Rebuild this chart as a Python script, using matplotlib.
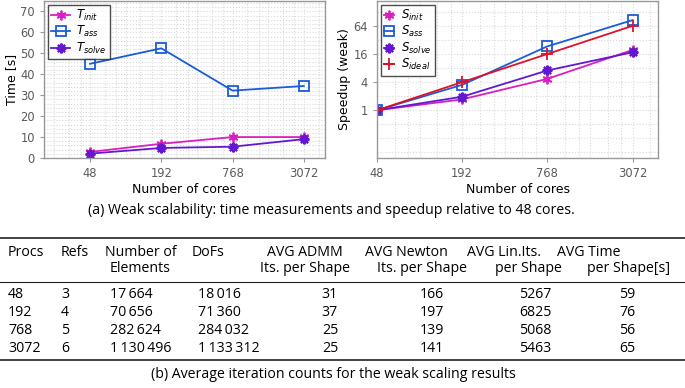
import matplotlib
matplotlib.use("Agg")
import matplotlib.pyplot as plt
from matplotlib.ticker import FixedLocator, NullFormatter

# ---- data ----
cores = [48, 192, 768, 3072]
t_init = [2.9, 6.8, 10.0, 10.0]
t_ass = [45.0, 52.4, 32.2, 34.4]
t_solve = [2.1, 4.8, 5.4, 9.0]

s_init = [1.0, 1.71, 4.7, 19.5]
s_ass = [1.0, 3.5, 23.3, 85.0]
s_solve = [1.0, 1.95, 7.1, 17.4]
s_ideal = [1.0, 4.0, 16.0, 64.0]

col_heads = [["Procs", ""], ["Refs", ""], ["Number of", "Elements"], ["DoFs", ""],
             ["AVG ADMM", "Its. per Shape"], ["AVG Newton", "Its. per Shape"],
             ["AVG Lin.Its.", "per Shape"], ["AVG Time", "per Shape[s]"]]
procs = ["48", "192", "768", "3072"]
refs = ["3", "4", "5", "6"]
n_elem = ["17\u2009664", "70\u2009656", "282\u2009624", "1\u2009130\u2009496"]
dofs = ["18\u2009016", "71\u2009360", "284\u2009032", "1\u2009133\u2009312"]
admm_its = ["31", "37", "25", "25"]
newton_its = ["166", "197", "139", "141"]
lin_its = ["5267", "6825", "5068", "5463"]
avg_time = ["59", "76", "56", "65"]

c_init = "#d81fc0"
c_ass = "#1a5bd8"
c_solve = "#6318d0"
c_ideal = "#e0102a"
tick_col = "#5a5a5a"
spine_col = "#999999"

fig = plt.figure(figsize=(6.85, 3.88), dpi=100)


def style_axes(ax):
    for s in ax.spines.values():
        s.set_color(spine_col)
        s.set_linewidth(1.0)
    ax.tick_params(which="both", colors=spine_col, labelcolor=tick_col, labelsize=8.3, length=3)
    ax.tick_params(which="minor", length=0)
    ax.grid(which="both", color="#d8d8d8", linestyle=":", linewidth=0.8)
    ax.set_axisbelow(True)


# ---- left: times ----
ax1 = fig.add_axes([44 / 685, 1 - 158 / 388, 281 / 685, 157 / 388])
ax1.plot(cores, t_init, color=c_init, marker=(6, 2, 0), ms=7, mew=1.3, lw=1.3, label=r"$T_{init}$")
ax1.plot(cores, t_ass, color=c_ass, marker="s", ms=7, mfc="none", mew=1.3, lw=1.3, label=r"$T_{ass}$")
ax1.plot(cores, t_solve, color=c_solve, marker=(8, 2, 0), ms=7, mew=1.6, lw=1.3, label=r"$T_{solve}$")
ax1.set_xscale("log", base=2)
ax1.set_xlim(19.6, 4640)
ax1.set_ylim(0, 75)
ax1.set_xticks(cores)
ax1.set_xticklabels([str(c) for c in cores])
ax1.xaxis.set_minor_locator(FixedLocator([24, 32, 40, 64, 80, 96, 128, 160, 256, 320, 384, 512, 640,
                                          1024, 1280, 1536, 2048, 2560, 4096]))
ax1.xaxis.set_minor_formatter(NullFormatter())
ax1.set_yticks(range(0, 71, 10))
ax1.yaxis.set_minor_locator(FixedLocator([v for v in range(0, 76, 2)]))
style_axes(ax1)
ax1.set_xlabel("Number of cores", fontsize=9, labelpad=2)
ax1.set_ylabel("Time [s]", fontsize=9, labelpad=2)
leg1 = ax1.legend(loc="upper left", fontsize=8.5, fancybox=False, edgecolor="#222222",
                  handlelength=1.6, borderpad=0.3, labelspacing=0.1, handletextpad=0.5,
                  borderaxespad=0.3)
leg1.get_frame().set_linewidth(1.0)

# ---- right: speedup ----
ax2 = fig.add_axes([377 / 685, 1 - 158 / 388, 281 / 685, 157 / 388])
ax2.plot(cores, s_init, color=c_init, marker=(6, 2, 0), ms=7, mew=1.3, lw=1.3, label=r"$S_{init}$")
ax2.plot(cores, s_ass, color=c_ass, marker="s", ms=7, mfc="none", mew=1.3, lw=1.3, label=r"$S_{ass}$")
ax2.plot(cores, s_solve, color=c_solve, marker=(8, 2, 0), ms=7, mew=1.6, lw=1.3, label=r"$S_{solve}$")
ax2.plot(cores, s_ideal, color=c_ideal, marker="+", ms=8, mew=1.3, lw=1.3, label=r"$S_{ideal}$")
ax2.set_xscale("log", base=2)
ax2.set_yscale("log", base=2)
ax2.set_xlim(48, 4650)
ax2.set_ylim(0.095, 218)
ax2.set_xticks(cores)
ax2.set_xticklabels([str(c) for c in cores])
ax2.xaxis.set_minor_locator(FixedLocator([64, 80, 96, 128, 160, 256, 320, 384, 512, 640,
                                          1024, 1280, 1536, 2048, 2560, 4096]))
ax2.xaxis.set_minor_formatter(NullFormatter())
ax2.set_yticks([1, 4, 16, 64])
ax2.set_yticklabels(["1", "4", "16", "64"])
ax2.yaxis.set_minor_locator(FixedLocator([0.125, 0.25, 0.5, 2, 8, 32, 128]))
ax2.yaxis.set_minor_formatter(NullFormatter())
style_axes(ax2)
ax2.set_xlabel("Number of cores", fontsize=9, labelpad=2)
ax2.set_ylabel("Speedup (weak)", fontsize=9, labelpad=2)
leg2 = ax2.legend(loc="upper left", fontsize=8.5, fancybox=False, edgecolor="#222222",
                  handlelength=0.8, borderpad=0.3, labelspacing=0.1, handletextpad=0.6,
                  borderaxespad=0.3)
leg2.get_frame().set_linewidth(1.0)

# ---- captions and table ----
fam = ["Open Sans", "DejaVu Sans"]
fs = 10.2


def fy(py):
    return 1 - py / 388


fig.text(331 / 685, fy(211), "(a) Weak scalability: time measurements and speedup relative to 48 cores.",
         ha="center", va="center", fontsize=fs, family=fam)
fig.text(333 / 685, fy(374), "(b) Average iteration counts for the weak scaling results",
         ha="center", va="center", fontsize=fs, family=fam)

# rules
for py, lw in [(238, 1.2), (282, 0.8), (360, 1.2)]:
    fig.add_artist(plt.Line2D([0, 1], [fy(py), fy(py)], color="#222222", lw=lw))

# header start positions (px) for both header lines
head_pos = [8, 61, 105, 192, 267, 365, 467, 557]
head_pos2 = [8, 61, 110, 192, 260, 377, 495, 587]
for (h1, h2), x1, x2 in zip(col_heads, head_pos, head_pos2):
    fig.text(x1 / 685, fy(252), h1, ha="left", va="center", fontsize=fs, family=fam)
    if h2:
        fig.text(x2 / 685, fy(269), h2, ha="left", va="center", fontsize=fs, family=fam)

row_y = [295, 312, 330, 348]
cols = [(procs, 8, "left"), (refs, 61, "left"), (n_elem, 110, "left"), (dofs, 198, "left"),
        (admm_its, 330, "center"), (newton_its, 432, "center"), (lin_its, 535, "center"),
        (avg_time, 627, "center")]
for vals, x, ha in cols:
    for v, py in zip(vals, row_y):
        fig.text(x / 685, fy(py), v, ha=ha, va="center", fontsize=fs, family=fam)

fig.savefig("out.png", dpi=100)
